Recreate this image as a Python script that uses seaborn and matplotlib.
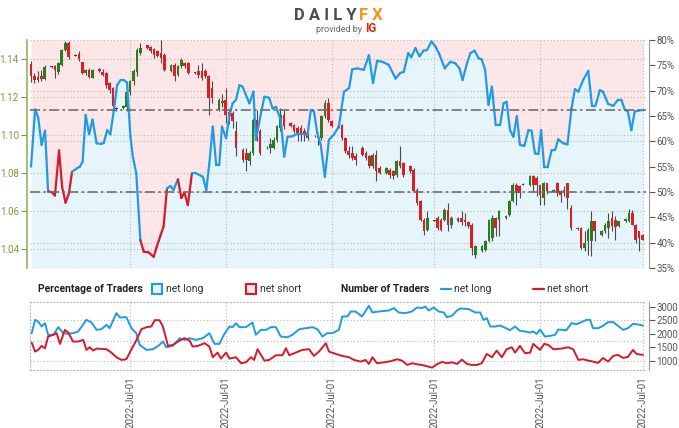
import numpy as np
import pandas as pd
import matplotlib
matplotlib.use('Agg')
import matplotlib.pyplot as plt
import seaborn as sns
from matplotlib.collections import LineCollection
from matplotlib.patches import Rectangle
from matplotlib.lines import Line2D

# ---- data: daily candles (day 0 = first Monday of the chart) ----
candle_day = [0, 1, 2, 3, 4,
              6, 7, 8, 9, 10, 11, 13, 14, 15, 16, 17, 18, 20, 21, 22, 23, 24, 25,
              27, 28, 29, 30, 31, 32, 34, 35, 36, 37, 38, 39, 41, 42, 43, 44, 45, 46,
              48, 49, 50, 51, 52, 53, 55, 56, 57, 58, 59, 60, 62, 63, 64, 65, 66, 67,
              69, 70, 71, 72, 73, 74, 76, 77, 78, 79, 80, 81, 83, 84, 85, 86, 87, 88,
              90, 91, 92, 93, 94, 95, 97, 98, 99, 100, 101, 102, 104, 105, 106, 107, 108, 109,
              111, 112, 113, 114, 115, 116, 118, 119, 120, 121, 122, 123, 125, 126, 127, 128, 129, 130,
              132, 133, 134, 135, 136, 137, 139, 140, 141, 142, 143, 144, 146, 147, 148, 149, 150, 151,
              153, 154, 155, 156, 157, 158, 160, 161, 162, 163, 164, 165, 167, 168, 169, 170, 171, 172,
              174, 175, 176, 177, 178, 179]

candle_open = [1.1375, 1.1310, 1.1288, 1.1310, 1.1297,
               1.1360, 1.1362, 1.1330, 1.1370, 1.1447, 1.1484,
               1.1420, 1.1425, 1.1382, 1.1327, 1.1340, 1.1302,
               1.1345, 1.1333, 1.1325, 1.1272, 1.1246, 1.1140,
               1.1142, 1.1149, 1.1227, 1.1282, 1.1330, 1.1432,
               1.1472, 1.1462, 1.1450, 1.1440, 1.1432, 1.1423,
               1.1335, 1.1370, 1.1318, 1.1362, 1.1379, 1.1379,
               1.1326, 1.1335, 1.1335, 1.1335, 1.1309, 1.1247,
               1.1133, 1.1180, 1.1186, 1.1120, 1.1116, 1.1020,
               1.0923, 1.0905, 1.0861, 1.0905, 1.1080, 1.1020,
               1.0930, 1.0932, 1.0932, 1.0975, 1.1037, 1.1107,
               1.1063, 1.1055, 1.1035, 1.1037, 1.1020, 1.1010,
               1.0993, 1.0993, 1.0984, 1.1098, 1.1168, 1.1075,
               1.1040, 1.1051, 1.0984, 1.0914, 1.0905, 1.0888,
               1.0932, 1.0905, 1.0888, 1.0835, 1.0897, 1.0826,
               1.0800, 1.0818, 1.0809, 1.0791, 1.0861, 1.0853,
               1.0835, 1.0818, 1.0712, 1.0651, 1.0554, 1.0502,
               1.0549, 1.0563, 1.0554, 1.0554, 1.0607, 1.0528,
               1.0563, 1.0563, 1.0554, 1.0540, 1.0528, 1.0370,
               1.0388, 1.0397, 1.0440, 1.0458, 1.0563, 1.0554,
               1.0563, 1.0580, 1.0651, 1.0739, 1.0730, 1.0739,
               1.0739, 1.0783, 1.0774, 1.0739, 1.0668, 1.0747,
               1.0700, 1.0747, 1.0704, 1.0695, 1.0747, 1.0615,
               1.0512, 1.0510, 1.0405, 1.0440, 1.0440, 1.0545,
               1.0475, 1.0493, 1.0510, 1.0563, 1.0554, 1.0520,
               1.0545, 1.0545, 1.0590, 1.0528, 1.0493, 1.0475]

candle_high = [1.1390, 1.1325, 1.1335, 1.1340, 1.1370,
               1.1365, 1.1370, 1.1385, 1.1455, 1.1495, 1.1495,
               1.1425, 1.1440, 1.1385, 1.1350, 1.1355, 1.1350,
               1.1352, 1.1345, 1.1330, 1.1280, 1.1255, 1.1148,
               1.1158, 1.1230, 1.1290, 1.1345, 1.1460, 1.1485,
               1.1475, 1.1468, 1.1458, 1.1450, 1.1502, 1.1430,
               1.1375, 1.1380, 1.1370, 1.1405, 1.1385, 1.1385,
               1.1330, 1.1370, 1.1380, 1.1345, 1.1318, 1.1282,
               1.1195, 1.1215, 1.1247, 1.1135, 1.1125, 1.1072,
               1.0930, 1.0932, 1.0914, 1.1090, 1.1133, 1.1030,
               1.0940, 1.0984, 1.0990, 1.1055, 1.1142, 1.1133,
               1.1068, 1.1060, 1.1045, 1.1055, 1.1037, 1.1037,
               1.1000, 1.1002, 1.1105, 1.1186, 1.1195, 1.1080,
               1.1055, 1.1060, 1.0990, 1.0940, 1.0940, 1.0905,
               1.0940, 1.0915, 1.0895, 1.0905, 1.0923, 1.0835,
               1.0830, 1.0826, 1.0815, 1.0870, 1.0940, 1.0860,
               1.0840, 1.0826, 1.0720, 1.0660, 1.0563, 1.0598,
               1.0555, 1.0575, 1.0565, 1.0615, 1.0642, 1.0575,
               1.0566, 1.0598, 1.0590, 1.0545, 1.0535, 1.0423,
               1.0420, 1.0450, 1.0560, 1.0580, 1.0570, 1.0607,
               1.0580, 1.0660, 1.0747, 1.0747, 1.0739, 1.0745,
               1.0790, 1.0790, 1.0783, 1.0739, 1.0755, 1.0750,
               1.0715, 1.0755, 1.0712, 1.0730, 1.0747, 1.0633,
               1.0515, 1.0515, 1.0493, 1.0510, 1.0598, 1.0550,
               1.0500, 1.0535, 1.0590, 1.0598, 1.0575, 1.0550,
               1.0565, 1.0610, 1.0607, 1.0530, 1.0495, 1.0478]

candle_low = [1.1280, 1.1275, 1.1280, 1.1285, 1.1290,
              1.1355, 1.1300, 1.1320, 1.1365, 1.1440, 1.1400,
              1.1415, 1.1390, 1.1320, 1.1318, 1.1300, 1.1300,
              1.1332, 1.1310, 1.1250, 1.1220, 1.1125, 1.1125,
              1.1138, 1.1125, 1.1210, 1.1265, 1.1310, 1.1423,
              1.1455, 1.1432, 1.1405, 1.1410, 1.1380, 1.1335,
              1.1330, 1.1282, 1.1310, 1.1352, 1.1355, 1.1320,
              1.1322, 1.1300, 1.1290, 1.1300, 1.1107, 1.1170,
              1.1125, 1.1150, 1.1065, 1.1060, 1.1037, 1.0890,
              1.0860, 1.0809, 1.0844, 1.0895, 1.0967, 1.0895,
              1.0925, 1.0905, 1.0925, 1.0965, 1.1020, 1.1030,
              1.1040, 1.1010, 1.0967, 1.0967, 1.0967, 1.0975,
              1.0990, 1.0950, 1.0975, 1.1090, 1.1070, 1.1040,
              1.1035, 1.0975, 1.0905, 1.0880, 1.0870, 1.0844,
              1.0890, 1.0870, 1.0826, 1.0826, 1.0756, 1.0795,
              1.0795, 1.0774, 1.0770, 1.0780, 1.0826, 1.0780,
              1.0800, 1.0700, 1.0630, 1.0545, 1.0475, 1.0493,
              1.0545, 1.0500, 1.0495, 1.0545, 1.0493, 1.0510,
              1.0542, 1.0528, 1.0520, 1.0510, 1.0370, 1.0353,
              1.0385, 1.0390, 1.0435, 1.0440, 1.0470, 1.0470,
              1.0560, 1.0575, 1.0645, 1.0633, 1.0668, 1.0735,
              1.0730, 1.0704, 1.0680, 1.0633, 1.0633, 1.0690,
              1.0698, 1.0677, 1.0645, 1.0677, 1.0610, 1.0500,
              1.0500, 1.0400, 1.0388, 1.0370, 1.0362, 1.0440,
              1.0470, 1.0485, 1.0458, 1.0493, 1.0450, 1.0515,
              1.0540, 1.0540, 1.0525, 1.0430, 1.0387, 1.0445]

candle_close = [1.1310, 1.1290, 1.1305, 1.1295, 1.1360,
                1.1358, 1.1340, 1.1378, 1.1447, 1.1484, 1.1412,
                1.1418, 1.1400, 1.1327, 1.1340, 1.1307, 1.1340,
                1.1335, 1.1316, 1.1263, 1.1237, 1.1150, 1.1138,
                1.1153, 1.1227, 1.1282, 1.1335, 1.1445, 1.1458,
                1.1460, 1.1441, 1.1423, 1.1415, 1.1405, 1.1344,
                1.1370, 1.1309, 1.1362, 1.1397, 1.1362, 1.1326,
                1.1328, 1.1318, 1.1300, 1.1310, 1.1195, 1.1195,
                1.1186, 1.1170, 1.1107, 1.1100, 1.1072, 1.0932,
                1.0870, 1.0870, 1.0905, 1.1080, 1.1002, 1.0905,
                1.0934, 1.0950, 1.0975, 1.1046, 1.1107, 1.1046,
                1.1046, 1.1020, 1.1010, 1.1010, 1.1002, 1.0984,
                1.0995, 1.0986, 1.1098, 1.1168, 1.1081, 1.1046,
                1.1046, 1.0984, 1.0914, 1.0897, 1.0880, 1.0870,
                1.0897, 1.0880, 1.0835, 1.0897, 1.0809, 1.0800,
                1.0826, 1.0791, 1.0783, 1.0861, 1.0835, 1.0791,
                1.0809, 1.0704, 1.0642, 1.0554, 1.0493, 1.0563,
                1.0550, 1.0510, 1.0502, 1.0607, 1.0528, 1.0563,
                1.0545, 1.0540, 1.0540, 1.0520, 1.0405, 1.0414,
                1.0414, 1.0440, 1.0554, 1.0563, 1.0510, 1.0598,
                1.0575, 1.0651, 1.0739, 1.0695, 1.0695, 1.0740,
                1.0783, 1.0739, 1.0739, 1.0686, 1.0747, 1.0704,
                1.0710, 1.0695, 1.0686, 1.0712, 1.0668, 1.0510,
                1.0505, 1.0405, 1.0430, 1.0502, 1.0545, 1.0493,
                1.0493, 1.0528, 1.0545, 1.0520, 1.0515, 1.0545,
                1.0560, 1.0590, 1.0528, 1.0450, 1.0458, 1.0450]

# ---- client sentiment: % of traders net long ----
sent_day = [0, 1.2, 2.1, 3.1, 4.1, 5.0, 6.0, 7.0, 8.2, 9.1, 10.1, 11.1, 12.0, 13.5, 14.3, 15.1,
            16.0, 17.0, 18.0, 19.2, 20.6, 21.3, 22.3, 23.2, 24.2, 25.2, 26.2, 27.1, 28.1, 29.1,
            29.8, 30.8, 32.0, 33.0, 34.4, 35.9, 36.8, 37.8, 38.8, 39.8, 40.8, 41.7, 43.0, 44.0,
            44.9, 45.9, 47.1, 48.3, 50.3, 51.3, 52.2, 53.2, 54.2, 55.1, 55.9, 57.1, 58.1, 59.0,
            60.0, 61.0, 61.9, 63.9, 65.1, 65.8, 67.3, 68.3, 69.7, 70.7, 71.7, 73.1, 74.1, 75.1,
            76.5, 78.0, 79.4, 80.9, 81.9, 82.8, 83.8, 84.8, 86.0, 87.2, 88.7, 90.1, 91.6, 93.1,
            94.0, 95.5, 97.4, 98.9, 100.1, 101.3, 102.8, 104.7, 106.7, 108.1, 109.1, 110.4, 111.3,
            112.5, 113.7, 114.9, 115.9, 117.2, 118.4, 119.5, 121.1, 122.7, 124.2, 125.4, 126.3,
            127.6, 128.6, 129.8, 131.0, 131.9, 132.9, 133.9, 134.9, 136.0, 137.3, 138.3, 139.2,
            140.2, 141.2, 142.2, 143.1, 144.4, 145.6, 146.5, 147.5, 148.5, 149.3, 150.2, 151.2,
            152.4, 153.4, 154.3, 155.8, 157.0, 158.2, 159.2, 160.2, 161.6, 163.1, 164.2, 165.2,
            166.5, 167.4, 168.9, 170.4, 171.8, 172.8, 173.8, 174.7, 175.7, 176.7, 178.2, 179.1]
sent_long = [55.0, 66.3, 64.7, 59.3, 62.1, 50.1, 50.0, 49.3, 58.2, 51.0, 47.9, 49.7, 54.0, 54.7, 55.0, 56.0,
             65.2, 61.4, 64.3, 59.6, 59.5, 59.7, 62.2, 61.4, 65.9, 71.1, 72.1, 72.1, 71.6, 60.9,
             57.0, 53.7, 40.5, 38.2, 38.1, 37.2, 39.2, 41.2, 43.2, 50.7, 51.2, 50.4, 52.5, 48.8,
             49.9, 47.4, 53.7, 53.7, 53.0, 50.4, 55.7, 62.9, 55.3, 55.3, 62.9, 60.6, 65.2, 67.5,
             68.2, 71.1, 70.8, 67.5, 69.8, 60.3, 65.5, 68.8, 68.6, 66.5, 66.8, 64.2, 57.0, 60.9,
             61.0, 61.5, 61.5, 61.2, 66.2, 65.9, 61.6, 59.3, 53.0, 60.3, 61.4, 62.9, 69.8, 70.5,
             74.2, 74.4, 74.1, 77.0, 71.5, 75.9, 75.7, 75.1, 72.4, 73.5, 73.7, 77.4, 76.6,
             78.4, 76.8, 77.9, 78.0, 79.7, 78.7, 77.2, 74.4, 75.7, 75.4, 74.4, 72.1,
             75.4, 77.4, 77.9, 76.4, 76.2, 74.1, 67.2, 70.8, 63.2, 63.2, 67.5, 67.8,
             62.2, 60.9, 65.0, 59.3, 59.1, 62.2, 62.1, 57.6, 57.5, 62.2, 54.9, 54.9,
             58.3, 58.3, 60.4, 59.6, 59.4, 66.5, 70.3, 69.8, 72.1, 73.9, 67.0, 67.0,
             70.1, 69.8, 67.4, 67.0, 68.2, 68.2, 66.2, 65.9, 62.2, 65.9, 66.1, 66.2]
net_short_spans = [(5.0, 12.0), (32.0, 39.8), (43.0, 47.1)]

# ---- number of traders ----
long_day = [0.2, 1.2, 2.1, 3.1, 4.1, 5.0, 6.5, 8.0, 9.4, 10.9, 12.3, 13.8, 16.2, 17.7, 19.2, 20.6,
            22.1, 23.0, 25.0, 26.0, 27.9, 29.4, 30.8, 31.8, 33.8, 35.7, 37.6, 38.6, 39.6, 41.5,
            43.5, 44.9, 46.4, 48.3, 50.3, 52.2, 53.7, 55.1, 56.6, 58.1, 59.0, 60.0, 61.0, 62.9,
            64.8, 65.8, 67.3, 68.8, 70.2, 71.7, 73.1, 75.1, 76.5, 78.5, 80.4, 82.4, 83.8, 85.3,
            86.7, 88.2, 90.1, 91.1, 92.6, 93.6, 95.0, 96.9, 98.9, 99.9, 101.8, 104.7, 106.2,
            107.6, 109.6, 111.5, 113.0, 114.4, 115.4, 116.4, 117.9, 119.3, 120.8, 121.7, 123.2,
            124.7, 125.6, 128.1, 130.0, 131.5, 132.4, 133.4, 134.4, 135.9, 137.3, 138.8, 140.2,
            141.7, 143.1, 144.6, 146.1, 147.0, 148.0, 149.0, 150.4, 151.9, 153.4, 154.3, 156.7,
            158.2, 159.7, 161.1, 162.6, 163.6, 164.5, 166.0, 167.4, 168.9, 170.4, 171.8, 173.3,
            174.7, 176.2, 177.7, 179.1]
long_count = [2026, 2524, 2461, 2274, 2400, 1963, 1963, 2250, 2026, 2000, 2026, 2088, 2524, 2424, 2150, 2175,
              2337, 2212, 2774, 2612, 2624, 2212, 2026, 1588, 1401, 1426, 1588, 1713, 1500, 1550,
              1838, 1775, 1838, 1775, 1838, 2026, 1626, 1626, 2000, 2274, 2250, 2400, 2250, 2250,
              2424, 1963, 2150, 2150, 2250, 2250, 1900, 1875, 1963, 2175, 2212, 2250, 2175, 1900,
              2026, 2026, 2150, 2649, 2649, 2836, 2836, 2649, 3048, 2799, 2836, 2873, 2961,
              2799, 2774, 2836, 2986, 2961, 3023, 2873, 2986, 2836, 2799, 2624, 2675,
              2873, 2948, 2924, 2799, 2799, 2524, 2587, 2274, 2274, 2312, 2224, 2137,
              2274, 2112, 2088, 2050, 2088, 2000, 2162, 1900, 1925, 1963, 2162, 2137,
              2399, 2362, 2437, 2524, 2524, 2212, 2212, 2299, 2437, 2437, 2299, 2150,
              2212, 2374, 2349, 2312]
short_day = [0.2, 1.2, 2.1, 3.1, 4.1, 5.0, 6.5, 7.5, 8.5, 9.9, 10.9, 12.3, 13.8, 15.3, 16.2, 17.2,
             18.2, 19.2, 22.1, 23.5, 25.0, 26.5, 27.9, 29.4, 30.8, 32.3, 33.8, 35.2, 36.2, 37.6,
             38.6, 40.1, 41.5, 43.5, 44.9, 46.4, 47.3, 48.8, 50.8, 52.2, 53.2, 54.6, 55.6, 57.1,
             58.1, 60.0, 61.5, 62.9, 64.4, 65.3, 66.3, 68.3, 69.7, 71.7, 73.6, 74.6, 75.6, 77.5,
             79.4, 81.4, 82.8, 84.3, 86.3, 87.2, 89.2, 91.1, 93.1, 94.5, 96.5, 97.9, 98.9, 99.9,
             101.3, 103.3, 105.2, 107.1, 108.6, 110.1, 111.5, 113.0, 114.4, 115.9, 117.4, 118.8,
             120.3, 121.7, 123.2, 124.7, 126.1, 127.6, 129.0, 130.5, 131.9, 133.4, 134.9, 136.3,
             137.8, 139.2, 140.7, 141.7, 143.1, 144.6, 146.1, 147.0, 149.0, 150.2, 151.4, 152.9,
             155.3, 157.2, 158.7, 160.2, 161.6, 163.1, 164.5, 166.0, 167.4, 168.9, 170.4, 171.8,
             173.3, 174.7, 176.2, 177.2, 179.1]
short_count = [1674, 1338, 1401, 1550, 1463, 1900, 1963, 2026, 1626, 2150, 2050, 1713, 1713, 1775, 1401, 1500,
               1376, 1451, 1426, 1301, 1126, 1026, 1051, 1426, 1750, 2175, 2250, 2274, 2511, 2511,
               2274, 1550, 1588, 1750, 1838, 1750, 1525, 1550, 1650, 1525, 1126, 1301, 1076, 1301,
               1076, 1126, 901, 938, 1126, 1026, 1426, 1001, 1026, 1201, 1201, 1463, 1201, 1301,
               1401, 1426, 1176, 1338, 1650, 1338, 1250, 1175, 1126, 1026, 963, 1026, 876, 1126,
               901, 938, 976, 1051, 1001, 839, 901, 864, 839, 789, 739, 864,
               951, 901, 938, 876, 1039, 876, 839, 839, 901, 1250, 1126, 1375,
               1126, 1425, 1500, 1300, 1550, 1276, 1301, 1625, 1400, 1625, 1588, 1425,
               1451, 1500, 1425, 1026, 1051, 1001, 963, 914, 1101, 964, 1176, 1213,
               1101, 1138, 1400, 1250, 1213]

month_ticks = [29, 57, 88, 118, 149, 179]
month_labels = ['2022-Jul-01'] * 6

# ---- style ----
sns.set_style('white')
plt.rcParams['font.family'] = ['Roboto', 'DejaVu Sans']

BLUE = '#1f9be6'
RED = '#d8192b'
PINK = '#fde6e7'
LIGHTBLUE = '#e6f4fc'
GREEN_TXT = '#6f9e3c'
GRID = '#b9b9b9'
GRID_GREEN = '#a9c98a'
TICK_FS = 7

W, H = 679, 428
fig = plt.figure(figsize=(W / 100, H / 100), dpi=100)
rect_main = [30 / W, 1 - 268 / H, 616 / W, 228 / H]
rect_low = [30 / W, 1 - 370 / H, 616 / W, 68 / H]
XMIN, XMAX = -0.3, 180.0

# main panel: price on left, sentiment % on right
ax = fig.add_axes(rect_main)
ax_pct = ax.twinx()
ax_line = fig.add_axes(rect_main, sharex=ax)
ax_pct.set_zorder(1)
ax.set_zorder(2)
ax_line.set_zorder(3)
ax.patch.set_visible(False)
ax_line.patch.set_visible(False)
ax_line.axis('off')

ax.set_xlim(XMIN, XMAX)
ax.set_ylim(1.03, 1.15)
ax_pct.set_ylim(35, 80)
ax_line.set_ylim(35, 80)

sd = np.array(sent_day)
sl = np.array(sent_long)
ax_pct.fill_between(sd, sl, 80, color=PINK, lw=0, zorder=0)
ax_pct.fill_between(sd, 35, sl, color=LIGHTBLUE, lw=0, zorder=0)
for v in [40, 50, 60, 70]:
    ax_pct.axhline(v, color=GRID, lw=0.8, ls=(0, (1, 2)), zorder=1)
for d in month_ticks:
    ax_pct.axvline(d, color=GRID, lw=0.8, ls=(0, (1, 2)), zorder=1)

# price grid + candles
for v in np.arange(1.04, 1.141, 0.02):
    ax.axhline(v, color=GRID_GREEN, lw=0.8, ls=(0, (1, 2)), zorder=1)
o = np.array(candle_open)
c = np.array(candle_close)
body_low = np.minimum(o, c)
body_h = np.maximum(np.abs(c - o), 0.00035)
cols = np.where(np.abs(c - o) < 0.0004, '#3a3a3a', np.where(c > o, '#2e7a20', '#d61f26'))
ax.vlines(candle_day, candle_low, candle_high, color='#4a4a4a', lw=0.8, zorder=2)
ax.bar(candle_day, body_h, bottom=body_low, width=0.78, color=cols, lw=0, zorder=3)

# sentiment line, red while net short
pts = np.column_stack([sd, sl])
segs = np.stack([pts[:-1], pts[1:]], axis=1)
seg_cols = []
for a, b in zip(sd[:-1], sd[1:]):
    short = any(lo <= a and b <= hi for lo, hi in net_short_spans)
    seg_cols.append(RED if short else BLUE)
ax_line.add_collection(LineCollection(segs, colors=seg_cols, linewidths=1.6,
                                      capstyle='round', joinstyle='round'))
ax_line.axhline(50, color='#6e6e6e', lw=1.2, ls=(0, (6, 2, 1.5, 2)))
ax_line.axhline(sent_long[-1], color='#6e6e6e', lw=1.2, ls=(0, (6, 2, 1.5, 2)))

# axes cosmetics
ax.set_xticks(month_ticks)
ax.tick_params(axis='x', length=0, labelbottom=False)
ax.set_yticks(np.arange(1.04, 1.141, 0.02))
ax.yaxis.set_major_formatter(matplotlib.ticker.FormatStrFormatter('%.2f'))
ax.tick_params(axis='y', colors=GREEN_TXT, labelsize=TICK_FS, length=4, width=0.8, pad=2)
ax_pct.set_yticks(np.arange(35, 81, 5))
ax_pct.set_yticklabels([f'{v}%' for v in range(35, 81, 5)])
ax_pct.tick_params(axis='y', colors='#555555', labelsize=TICK_FS, length=4, width=0.8, pad=1.5)
for a_ in (ax, ax_pct):
    for s in ('top', 'bottom'):
        a_.spines[s].set_visible(False)
ax_pct.spines['left'].set_visible(False)
ax.spines['right'].set_visible(False)
ax.spines['left'].set_color('#8cb85a')
ax.spines['left'].set_linewidth(1.2)
ax.spines['left'].set_position(('outward', 2))
ax_pct.spines['right'].set_color('#9a9a9a')
ax_pct.spines['right'].set_position(('outward', 2))
ax_pct.axhline(80, color=GRID, lw=0.8, ls=(0, (1, 2)))
ax_pct.axhline(35, color=GRID, lw=0.8, ls=(0, (1, 2)))

# lower panel: number of traders
axb = fig.add_axes(rect_low)
sns.lineplot(x=long_day, y=long_count, color=BLUE, lw=1.4, ax=axb)
sns.lineplot(x=short_day, y=short_count, color=RED, lw=1.4, ax=axb)
axb.set_xlim(XMIN, XMAX)
axb.set_ylim(650, 3190)
for v in [1000, 1750, 2500]:
    axb.axhline(v, color=GRID, lw=0.8, ls=(0, (1, 2)), zorder=0)
for d in month_ticks:
    axb.axvline(d, color=GRID, lw=0.8, ls=(0, (1, 2)), zorder=0)
axb.set_xticks(month_ticks)
axb.set_xticklabels(month_labels, rotation=90)
axb.tick_params(axis='x', colors='#555555', labelsize=TICK_FS, length=3, width=0.8, pad=1.5)
axb.yaxis.tick_right()
axb.set_yticks([1000, 1500, 2000, 2500, 3000])
axb.tick_params(axis='y', colors='#555555', labelsize=TICK_FS, length=4, width=0.8, pad=1.5)
for s in ('top', 'bottom', 'left'):
    axb.spines[s].set_linestyle((0, (1, 2)))
    axb.spines[s].set_color(GRID)
    axb.spines[s].set_linewidth(0.8)
axb.spines['right'].set_color('#9a9a9a')
axb.spines['right'].set_position(('outward', 2))
axb.set_xlabel('')
axb.set_ylabel('')

# legend row
ly = 1 - 289 / H
fig.text(38 / W, ly, 'Percentage of Traders', fontsize=7.5, weight='bold', color='#222222', va='center')
fig.add_artist(Rectangle((152 / W, 1 - 294 / H), 10 / W, 10 / H, transform=fig.transFigure,
                         facecolor=LIGHTBLUE, edgecolor=BLUE, lw=1.5))
fig.text(166 / W, ly, 'net long', fontsize=7.5, color='#333333', va='center')
fig.add_artist(Rectangle((246 / W, 1 - 294 / H), 10 / W, 10 / H, transform=fig.transFigure,
                         facecolor=PINK, edgecolor=RED, lw=1.5))
fig.text(260 / W, ly, 'net short', fontsize=7.5, color='#333333', va='center')
fig.text(341 / W, ly, 'Number of Traders', fontsize=7.5, weight='bold', color='#222222', va='center')
fig.add_artist(Line2D([441 / W, 451 / W], [ly, ly], transform=fig.transFigure, color=BLUE, lw=1.6))
fig.text(454 / W, ly, 'net long', fontsize=7.5, color='#333333', va='center')
fig.add_artist(Line2D([533 / W, 544 / W], [ly, ly], transform=fig.transFigure, color=RED, lw=1.6))
fig.text(547 / W, ly, 'net short', fontsize=7.5, color='#333333', va='center')

# logo
fig.text(357 / W, 1 - 15 / H, 'D A I L Y', fontsize=12, weight='bold', color='#4d4d4d',
         ha='right', va='center')
fig.text(359 / W, 1 - 15 / H, 'F X', fontsize=12, weight='bold', color='#f7941d',
         ha='left', va='center')
fig.text(362 / W, 1 - 29 / H, 'provided by', fontsize=6.5, color='#666666', ha='right', va='center')
fig.text(365 / W, 1 - 29 / H, 'IG', fontsize=8.5, weight='bold', color='#e2211c', ha='left', va='center')

fig.savefig('out.png', dpi=100)
